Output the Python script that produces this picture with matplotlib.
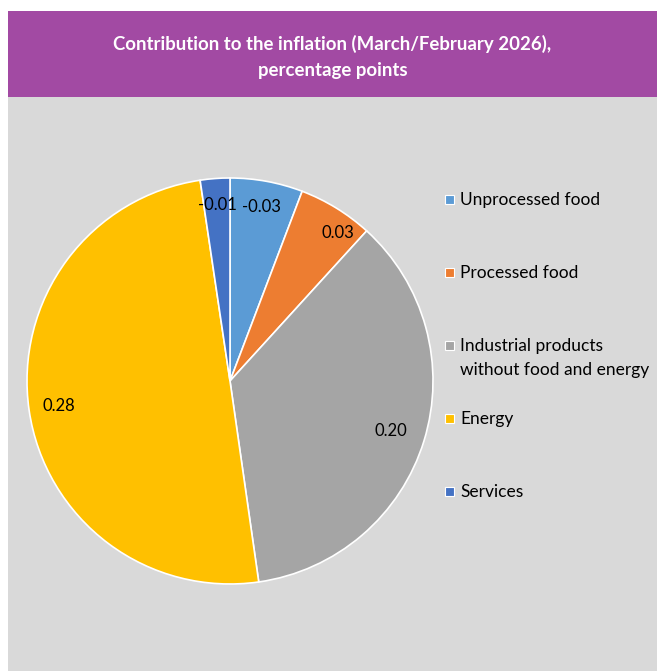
import matplotlib

matplotlib.use("Agg")
import matplotlib.pyplot as plt
import numpy as np
from matplotlib.patches import Rectangle

plt.rcParams["font.family"] = ["Lato", "DejaVu Sans"]

CATEGORIES = [
    "Unprocessed food",
    "Processed food",
    "Industrial products\nwithout food and energy",
    "Energy",
    "Services",
]
# labels shown on the slices (percentage points)
VALUES = [-0.03, 0.03, 0.20, 0.28, -0.01]
# slice magnitudes (unrounded contributions)
SIZES = [0.032, 0.033, 0.199, 0.276, 0.013]
COLORS = ["#5B9BD5", "#ED7D31", "#A5A5A5", "#FFC000", "#4472C4"]
TITLE = "Contribution to the inflation (March/February 2026),\npercentage points"

# label placement tweaks (angle shift in degrees, radius fraction)
LABEL_SHIFT = [0, -4.5, 0, 0, 0]
LABEL_DIST = [0.87, 0.9, 0.83, 0.85, 0.87]


def main():
    W, H = 657, 671
    fig = plt.figure(figsize=(W / 100, H / 100), dpi=100)
    fig.patch.set_facecolor("white")

    # header band + grey plot area
    fig.add_artist(Rectangle((8 / W, (H - 97) / H), (W - 8) / W, 86 / H,
                             transform=fig.transFigure, facecolor="#A24AA3",
                             edgecolor="none", zorder=0))
    fig.add_artist(Rectangle((8 / W, 0), (W - 8) / W, (H - 97) / H,
                             transform=fig.transFigure, facecolor="#D9D9D9",
                             edgecolor="none", zorder=0))
    fig.text((8 + W) / 2 / W, (H - 57) / H, TITLE, ha="center", va="center",
             color="white", fontsize=13.4, fontweight="bold", linespacing=1.64)

    cx, cy, r = 230, 381, 203
    ax = fig.add_axes([(cx - r) / W, (H - cy - r) / H, 2 * r / W, 2 * r / H])
    wedges, _ = ax.pie(
        SIZES,
        colors=COLORS,
        startangle=90,
        counterclock=False,
        wedgeprops=dict(edgecolor="white", linewidth=1.2),
    )
    for w, v, sh, d in zip(wedges, VALUES, LABEL_SHIFT, LABEL_DIST):
        w.set_clip_on(False)
        ang = np.deg2rad((w.theta1 + w.theta2) / 2 + sh)
        ax.text(d * np.cos(ang), d * np.sin(ang), f"{v:.2f}", ha="center",
                va="center", fontsize=12, color="black")
    ax.set_xlim(-1, 1)
    ax.set_ylim(-1, 1)
    ax.set_aspect("equal")
    ax.axis("off")

    # legend, Excel style: evenly spaced rows, marker at first line
    for i, (name, col) in enumerate(zip(CATEGORIES, COLORS)):
        y = 199 + 73 * i
        fig.add_artist(Rectangle((445 / W, (H - y - 4.5) / H), 9 / W, 9 / H,
                                 transform=fig.transFigure, facecolor=col,
                                 edgecolor="white", linewidth=0.8))
        fig.text(460 / W, (H - y + 7) / H, name, ha="left", va="top",
                 fontsize=12.5, color="black", linespacing=1.62)

    fig.savefig("out.png", dpi=100)
    plt.close(fig)


if __name__ == "__main__":
    main()
